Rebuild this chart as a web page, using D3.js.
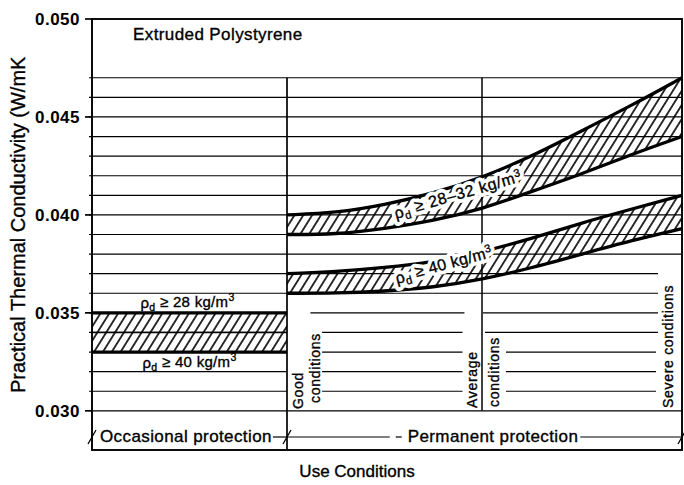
<!DOCTYPE html>
<html>
<head>
<meta charset="utf-8">
<script src="https://cdn.jsdelivr.net/npm/d3@7"></script>
<style>
  body { margin: 0; background: #fff; }
  text { font-family: "Liberation Sans", Arial, sans-serif; fill: #000; }
  .heavy { stroke: #000; stroke-width: 0.35px; }
</style>
</head>
<body>
<svg id="chart" width="684" height="485"></svg>
<script>
// ---- data ----
// use-condition stages along the horizontal axis (boundaries 0..3)
const stageBounds = [0, 1, 2, 3];
const yTickValues = [0.030, 0.035, 0.040, 0.045, 0.050];
const gridLevels = [0.030, 0.031, 0.032, 0.033, 0.034, 0.035, 0.036, 0.037, 0.038,
                    0.039, 0.040, 0.041, 0.042, 0.043, 0.044, 0.045, 0.046, 0.047];

// occasional protection: a flat band
const occX = [0, 1];
const occHigh = [0.035, 0.035];   // rho_d >= 28 kg/m3
const occMid = [0.034, 0.034];
const occLow = [0.033, 0.033];    // rho_d >= 40 kg/m3

// permanent protection: conductivity rising from good to severe conditions
const permX = [1, 1.25, 1.5, 1.75, 2, 2.25, 2.5, 2.75, 3];
const band28Top    = [0.0400, 0.0401, 0.0405, 0.0411, 0.0419, 0.0430, 0.0443, 0.0456, 0.0470];
const band28Bottom = [0.0390, 0.0390, 0.0393, 0.0397, 0.0403, 0.0412, 0.0421, 0.0431, 0.0440];
const band40Top    = [0.0370, 0.0371, 0.0373, 0.0376, 0.0381, 0.0388, 0.0396, 0.0403, 0.0410];
const band40Bottom = [0.0360, 0.0360, 0.0361, 0.0363, 0.0367, 0.0373, 0.0380, 0.0387, 0.0393];

// ---- layout ----
const svg = d3.select("#chart");
const L = 92, R = 682, T = 19, B = 450;
const x = d3.scaleLinear().domain(stageBounds).range([L, 287, 482, R]);
const y = d3.scaleLinear().domain([0.028, 0.050]).range([B, T]);
const ink = "#000";

const defs = svg.append("defs");
const pat = defs.append("pattern").attr("id", "hatch")
  .attr("patternUnits", "userSpaceOnUse").attr("width", 7.5).attr("height", 8)
  .attr("patternTransform", "rotate(32)");
pat.append("line").attr("x1", 3.75).attr("x2", 3.75).attr("y1", -1).attr("y2", 9)
  .attr("stroke", ink).attr("stroke-width", 1.6);

const g = svg.append("g");

// horizontal rules in the occasional column
gridLevels.forEach(v => {
  g.append("line").attr("x1", x(0) - (v === 0.030 ? 0 : 3)).attr("x2", x(1))
    .attr("y1", y(v)).attr("y2", y(v)).attr("stroke", ink).attr("stroke-width", 1.2);
});

// horizontal rules in the permanent columns
const runsShort = {
  "0.035": [[1.12, 1.91], [2.005, 2.88]],
  "0.034": [[1.18, 1.90], [2.015, 2.88]],
  "0.033": [[1.18, 1.90], [2.12, 2.87]],
  "0.032": [[1.18, 1.90], [2.12, 2.87]],
  "0.031": [[1.18, 1.90], [2.12, 2.87]]
};
gridLevels.forEach(v => {
  const key = v.toFixed(3);
  let runs;
  if (v >= 0.038 || v === 0.030) runs = [[1, 3]];
  else if (v >= 0.036) runs = [[1, 2.88]];
  else runs = runsShort[key];
  runs.forEach(([a, b]) => {
    g.append("line").attr("x1", x(a)).attr("x2", x(b))
      .attr("y1", y(v)).attr("y2", y(v)).attr("stroke", ink).attr("stroke-width", 1.2);
  });
});

// column dividers
g.append("line").attr("x1", x(1)).attr("x2", x(1)).attr("y1", y(0.047)).attr("y2", B)
  .attr("stroke", ink).attr("stroke-width", 1.7);
g.append("line").attr("x1", x(2)).attr("x2", x(2)).attr("y1", y(0.047)).attr("y2", y(0.030))
  .attr("stroke", ink).attr("stroke-width", 1.5);

// frame
g.append("rect").attr("x", L).attr("y", T).attr("width", R - L).attr("height", B - T)
  .attr("fill", "none").attr("stroke", ink).attr("stroke-width", 1.9);

// y axis major ticks and labels
yTickValues.forEach(v => {
  g.append("line").attr("x1", L - 7).attr("x2", L).attr("y1", y(v)).attr("y2", y(v))
    .attr("stroke", ink).attr("stroke-width", 1.7);
  g.append("text").attr("x", L - 12).attr("y", y(v)).attr("dy", "0.34em")
    .attr("text-anchor", "end").attr("font-size", 17).attr("font-weight", "bold")
    .attr("letter-spacing", "0.5px").text(v.toFixed(3));
});

// ---- bands ----
function bandData(xs, lo, hi) { return xs.map((d, i) => ({ x: d, lo: lo[i], hi: hi[i] })); }
const area = d3.area().x(d => x(d.x)).y0(d => y(d.lo)).y1(d => y(d.hi)).curve(d3.curveBasis);
const lineHi = d3.line().x(d => x(d.x)).y(d => y(d.hi)).curve(d3.curveBasis);
const lineLo = d3.line().x(d => x(d.x)).y(d => y(d.lo)).curve(d3.curveBasis);

const occ = bandData(occX, occLow, occHigh);
const b28 = bandData(permX, band28Bottom, band28Top);
const b40 = bandData(permX, band40Bottom, band40Top);

[occ, b28, b40].forEach(d => {
  g.append("path").datum(d).attr("d", area).attr("fill", "url(#hatch)");
  g.append("path").datum(d).attr("d", lineHi).attr("fill", "none").attr("stroke", ink).attr("stroke-width", 3.3);
  g.append("path").datum(d).attr("d", lineLo).attr("fill", "none").attr("stroke", ink).attr("stroke-width", 3.3);
});
g.append("path").datum(bandData(occX, occMid, occMid)).attr("d", lineHi)
  .attr("fill", "none").attr("stroke", ink).attr("stroke-width", 1.5);

// density labels
function fillLabel(t, value) {
  t.append("tspan").text("\u03C1");
  t.append("tspan").attr("font-size", "70%").attr("dy", "0.3em").text("d");
  t.append("tspan").attr("dy", "-0.3em").text(" \u2265 " + value + " kg/m");
  t.append("tspan").attr("font-size", "70%").attr("dy", "-0.5em").text("3");
}
function densityLabel(place, value, size, spacing, halo) {
  if (halo) {
    const h = place(g.append("text")).attr("font-size", size).attr("letter-spacing", spacing + "px")
      .attr("fill", "#fff").attr("stroke", "#fff").attr("stroke-width", 8).attr("stroke-linejoin", "round");
    fillLabel(h, value);
  }
  const t = place(g.append("text")).attr("class", "heavy").attr("font-size", size)
    .attr("letter-spacing", spacing + "px");
  fillLabel(t, value);
}
const midOcc = (x(0) + x(1)) / 2;
densityLabel(t => t.attr("x", midOcc - 2).attr("y", y(0.035) - 5).attr("text-anchor", "middle"), "28", 15, 0.3, false);
densityLabel(t => t.attr("x", midOcc).attr("y", y(0.033) + 16).attr("text-anchor", "middle"), "40", 15, 0.3, false);
densityLabel(t => t.attr("transform", "translate(396,219) rotate(-16)"), "28\u201332", 16, 0.6, true);
densityLabel(t => t.attr("transform", "translate(397,284) rotate(-15)"), "40", 16, 0.3, true);

// title inside the frame
g.append("text").attr("class", "heavy").attr("x", 133).attr("y", 40).attr("font-size", 17)
  .attr("letter-spacing", "0.4px").text("Extruded Polystyrene");

// condition labels, reading upward
function upText(bx, by, s) {
  g.append("text").attr("class", "heavy").attr("transform", `translate(${bx},${by}) rotate(-90)`)
    .attr("font-size", 14).attr("letter-spacing", "0.7px").text(s);
}
upText(303, 409, "Good");
upText(320, 403, "conditions");
upText(477, 408, "Average");
upText(499, 407, "conditions");
upText(673, 408, "Severe conditions");

// protection row along the bottom
const rowY = 437;
const occText = g.append("text").attr("class", "heavy").attr("x", x(0) + 8).attr("y", 442).attr("font-size", 17)
  .attr("letter-spacing", "0.4px").text("Occasional protection");
const permText = g.append("text").attr("class", "heavy").attr("x", 493).attr("y", 442).attr("text-anchor", "middle")
  .attr("font-size", 17).attr("letter-spacing", "0.4px").text("Permanent protection");
const ob = occText.node().getBBox();
const pb = permText.node().getBBox();
const rule = (a, b) => g.append("line").attr("x1", a).attr("x2", b).attr("y1", rowY).attr("y2", rowY)
  .attr("stroke", ink).attr("stroke-width", 1.2);
rule(ob.x + ob.width + 1, x(1));
rule(x(1), pb.x - 18);
rule(pb.x - 12, pb.x - 6);
rule(pb.x + pb.width + 2, x(3));
[0, 1, 3].forEach(s => {
  g.append("line").attr("x1", x(s) - 4).attr("x2", x(s) + 4)
    .attr("y1", rowY + 7).attr("y2", rowY - 7).attr("stroke", ink).attr("stroke-width", 1.3);
});

// axis titles
g.append("text").attr("class", "heavy").attr("transform", "translate(25,393) rotate(-90)")
  .attr("font-size", 20).text("Practical Thermal Conductivity (W/mK");
g.append("text").attr("class", "heavy").attr("x", 357).attr("y", 477).attr("text-anchor", "middle")
  .attr("font-size", 17).text("Use Conditions");
</script>
</body>
</html>
